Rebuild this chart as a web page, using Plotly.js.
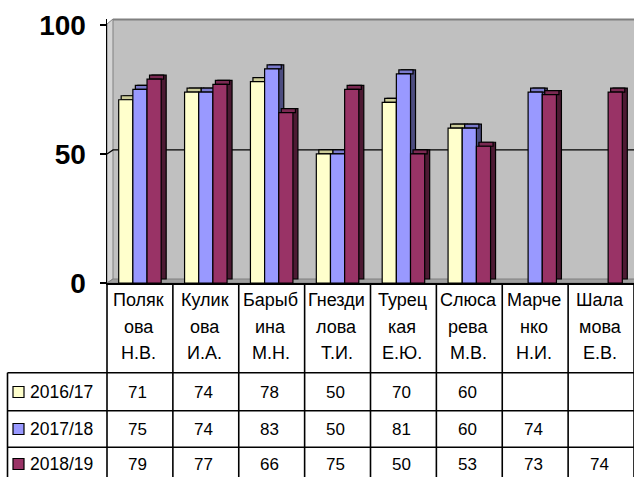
<!DOCTYPE html>
<html><head><meta charset="utf-8">
<script src="https://cdn.plot.ly/plotly-3.0.1.min.js"></script>
<style>html,body{margin:0;padding:0;background:#fff;overflow:hidden}#chart{width:634px;height:477px}</style>
</head><body><div id="chart"></div>
<script>
// ---- data ----
const categories = ['Полякова Н.В.','Куликова И.А.','Барыбина М.Н.','Гнездилова Т.И.','Турецкая Е.Ю.','Слюсарева М.В.','Марченко Н.И.','Шаламова Е.В.'];
const labelLines = [['Поляк','ова','Н.В.'],['Кулик','ова','И.А.'],['Барыб','ина','М.Н.'],['Гнезди','лова','Т.И.'],['Турец','кая','Е.Ю.'],['Слюса','рева','М.В.'],['Марче','нко','Н.И.'],['Шала','мова','Е.В.']];
const seriesNames = ['2016/17','2017/18','2018/19'];
const v1617 = [71,74,78,50,70,60,null,null];
const v1718 = [75,74,83,50,81,60,74,null];
const v1819 = [79,77,66,75,50,53,73,74];
const seriesValues = [v1617, v1718, v1819];
const yTicks = [0,50,100];

// ---- style ----
const frontColors = ['#FFFFCC','#9999FF','#993366'];
const topColors = ['#CCCC99','#7A7ACC','#7A2952'];
const sideColors = ['#808066','#4D4D80','#4D1A33'];
const FONT = 'Arial, "Liberation Sans", sans-serif';

const W=634,H=477,L=107,R=0,T=19,B=194;
const plotW=W-L-R, plotH=H-T-B;
const yMax=102.3;
const pxPerUnit=plotH/yMax;
const catPx=plotW/categories.length;
const depthX=5/catPx;
const depthY=4/pxPerUnit;
const barW=0.215;
const offsets=[-0.3225,-0.1075,0.1075];
const px=x=>(x-L)/plotW;
const py=y=>(H-B-y)/plotH;

const traces=[];
seriesValues.forEach((vals,i)=>{
  const common={type:'bar',x:categories,width:barW,hoverinfo:'skip',showlegend:false};
  traces.push(Object.assign({},common,{y:vals,base:vals.map(v=>v==null?null:depthY),offset:offsets[i]+depthX,
    marker:{color:sideColors[i],line:{color:'#000',width:1.2}}}));
  traces.push(Object.assign({},common,{y:vals.map(v=>v==null?null:depthY),base:vals,offset:offsets[i]+depthX/2,
    marker:{color:topColors[i],line:{color:'#000',width:1.2}}}));
  traces.push(Object.assign({},common,{y:vals,offset:offsets[i],name:seriesNames[i],
    marker:{color:frontColors[i],line:{color:'#000',width:1.2}}}));
});

const shapes=[];
// back wall
shapes.push({type:'rect',xref:'paper',yref:'paper',x0:px(113),x1:1.02,y0:py(279),y1:py(19),fillcolor:'#c0c0c0',line:{width:0},layer:'below'});
shapes.push({type:'line',xref:'paper',yref:'paper',x0:px(113),x1:1.02,y0:py(19.5),y1:py(19.5),line:{color:'#808080',width:2},layer:'below'});
// left wall
shapes.push({type:'path',xref:'paper',yref:'paper',path:`M ${px(107)} ${py(283)} L ${px(107)} ${py(24)} L ${px(113)} ${py(19)} L ${px(113)} ${py(279)} Z`,fillcolor:'#d4d4d4',line:{color:'#808080',width:1},layer:'below'});
// floor
shapes.push({type:'path',xref:'paper',yref:'paper',path:`M ${px(107)} ${py(283)} L 1.02 ${py(283)} L 1.02 ${py(279)} L ${px(113)} ${py(279)} Z`,fillcolor:'#a0a0a0',line:{color:'#808080',width:1},layer:'below'});
// gridline at 50
const g50=H-B-50*pxPerUnit;
shapes.push({type:'path',xref:'paper',yref:'paper',path:`M ${px(107)} ${py(g50)} L ${px(113)} ${py(g50-4)} L 1.02 ${py(g50-4)}`,line:{color:'#000',width:1.2},layer:'below'});

// data table
const tableLine={color:'#000',width:1.6};
for(let k=0;k<=categories.length;k++){
  const xx=L+k*catPx;
  shapes.push({type:'line',xref:'paper',yref:'paper',x0:px(xx),x1:px(xx),y0:py(283),y1:py(480),line:tableLine});
}
shapes.push({type:'line',xref:'paper',yref:'paper',x0:px(7.5),x1:px(7.5),y0:py(372.7),y1:py(480),line:tableLine});
[372.7,410.7,447.3].forEach(yy=>{
  shapes.push({type:'line',xref:'paper',yref:'paper',x0:px(7.5),x1:1.02,y0:py(yy),y1:py(yy),line:tableLine});
});
const rowY=[392,429,464];
const annotations=[];
const lineY=[300,327,353];
labelLines.forEach((lines,c)=>{
  lines.forEach((t,j)=>{
    annotations.push({xref:'paper',yref:'paper',x:px(L+(c+0.5)*catPx-1),y:py(lineY[j]),text:t,showarrow:false,xanchor:'center',yanchor:'middle',font:{family:FONT,size:18,color:'#000'}});
  });
});
seriesValues.forEach((vals,i)=>{
  shapes.push({type:'rect',xref:'paper',yref:'paper',x0:px(13),x1:px(24),y0:py(rowY[i]-5.5),y1:py(rowY[i]+5.5),fillcolor:frontColors[i],line:{color:'#000',width:1.2}});
  annotations.push({xref:'paper',yref:'paper',x:px(28),y:py(rowY[i]),text:seriesNames[i],showarrow:false,xanchor:'left',yanchor:'middle',font:{family:FONT,size:17.5,color:'#000'}});
  vals.forEach((v,c)=>{
    if(v==null) return;
    annotations.push({xref:'paper',yref:'paper',x:px(L+(c+0.5)*catPx-2),y:py(rowY[i]),text:String(v),showarrow:false,xanchor:'center',yanchor:'middle',font:{family:FONT,size:17,color:'#000'}});
  });
});

const layout={
  width:W,height:H,margin:{l:L,r:R,t:T,b:B,pad:0},
  paper_bgcolor:'#fff',plot_bgcolor:'#fff',
  barmode:'overlay',showlegend:false,
  xaxis:{type:'category',range:[-0.5,categories.length-0.5],showticklabels:false,ticks:'',showgrid:false,zeroline:false,
    showline:true,linecolor:'#000',linewidth:1.5,fixedrange:true},
  yaxis:{range:[0,yMax],tickvals:yTicks,ticktext:yTicks.map(String),showgrid:false,zeroline:false,
    showline:true,linecolor:'#000',linewidth:1.5,ticks:'outside',ticklen:6,tickcolor:'#000',tickwidth:1.5,
    ticklabelstandoff:8,tickfont:{family:FONT,size:28,color:'#000',weight:'bold'},fixedrange:true},
  shapes:shapes,annotations:annotations,font:{family:FONT}
};
Plotly.newPlot('chart',traces,layout,{displayModeBar:false,staticPlot:true});
</script></body></html>
